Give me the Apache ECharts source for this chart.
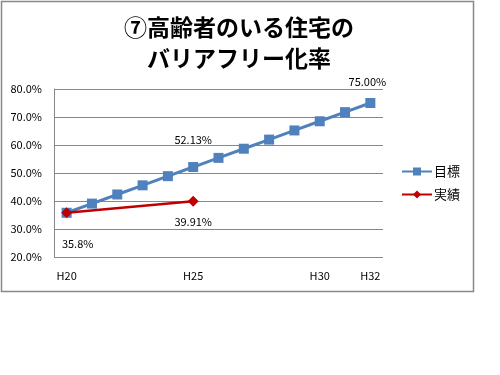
<!DOCTYPE html>
<html>
<head>
<meta charset="utf-8">
<script src="https://cdn.jsdelivr.net/npm/echarts@6/dist/echarts.min.js"></script>
<style>
  html, body { margin: 0; padding: 0; background: #fff; }
  #chart { width: 500px; height: 375px; }
</style>
</head>
<body>
<div id="chart"></div>
<script>
const years = ['H20', 'H21', 'H22', 'H23', 'H24', 'H25', 'H26', 'H27', 'H28', 'H29', 'H30', 'H31', 'H32']
const shownYears = ['H20', 'H25', 'H30', 'H32']
const target = [35.8, 39.07, 42.33, 45.6, 48.87, 52.13, 55.4, 58.67, 61.93, 65.2, 68.47, 71.73, 75.0]
const actual = [35.8, null, null, null, null, 39.91, null, null, null, null, null, null, null]
const targetLabels = { 5: '52.13%', 12: '75.00%' }
const actualLabels = { 0: '35.8%', 5: '39.91%' }

const font = "'Noto Sans CJK JP', sans-serif"
const chart = echarts.init(document.getElementById('chart'))

// label placement tweaks per point (Excel put them by hand)
const labelTweak = {
  '目標-5': { distance: 17, offset: [0, 0] },
  '目標-12': { distance: 11, offset: [-3, 0] },
  '実績-0': { distance: 20, offset: [11, 0] },
  '実績-5': { distance: 10, offset: [0, 0] },
}

const withLabels = (name, values) =>
  values.map((v, i) => {
    const t = labelTweak[name + '-' + i]
    if (v == null || !t) return v
    return { value: v, label: { distance: t.distance, offset: t.offset } }
  })

const option = {
  backgroundColor: '#fff',
  animation: false,
  textStyle: { fontFamily: font },
  title: {
    text: '⑦高齢者のいる住宅の\nバリアフリー化率',
    left: 234,
    textAlign: 'center',
    top: 7,
    textStyle: {
      fontSize: 23,
      fontWeight: 'bold',
      color: '#000',
      lineHeight: 31,
      fontFamily: font,
    },
  },
  legend: {
    orient: 'vertical',
    left: 396,
    top: 160,
    itemWidth: 30,
    itemHeight: 10,
    itemGap: 10,
    textStyle: { fontSize: 13, color: '#000', padding: [0, 0, 0, -3] },
    data: ['目標', '実績'],
  },
  grid: {
    left: 54,
    right: 117,
    top: 89,
    bottom: 118,
    containLabel: false,
  },
  xAxis: {
    type: 'category',
    data: years,
    boundaryGap: true,
    axisLine: { show: false },
    axisTick: { show: false },
    axisLabel: {
      interval: 0,
      margin: 13,
      fontSize: 11,
      color: '#000',
      formatter: (v) => (shownYears.includes(v) ? v : ''),
    },
  },
  yAxis: {
    type: 'value',
    min: 20,
    max: 80,
    interval: 10,
    axisLine: { show: true, lineStyle: { color: '#888', width: 1 } },
    axisTick: { show: false },
    axisLabel: {
      margin: 12,
      fontSize: 11,
      color: '#000',
      formatter: (v) => v.toFixed(1) + '%',
    },
    splitLine: { lineStyle: { color: '#888', width: 1 } },
  },
  series: [
    {
      name: '目標',
      type: 'line',
      data: withLabels('目標', target),
      symbol: 'rect',
      symbolSize: 10,
      itemStyle: { color: '#4f81bd' },
      lineStyle: { color: '#4f81bd', width: 3 },
      label: {
        show: true,
        position: 'top',
        distance: 18,
        fontSize: 11,
        color: '#000',
        formatter: (p) => targetLabels[p.dataIndex] || '',
      },
      z: 2,
    },
    {
      name: '実績',
      type: 'line',
      data: withLabels('実績', actual),
      connectNulls: true,
      symbol: 'diamond',
      symbolSize: 11,
      itemStyle: { color: '#c00000' },
      lineStyle: { color: '#c00000', width: 2.5 },
      label: {
        show: true,
        position: 'bottom',
        distance: 18,
        fontSize: 11,
        color: '#000',
        formatter: (p) => actualLabels[p.dataIndex] || '',
      },
      z: 3,
    },
  ],
  graphic: [
    {
      type: 'rect',
      shape: { x: 1.5, y: 1.5, width: 472, height: 290 },
      style: { fill: null, stroke: '#888', lineWidth: 1.5 },
      silent: true,
    },
  ],
}

chart.setOption(option)
</script>
</body>
</html>
